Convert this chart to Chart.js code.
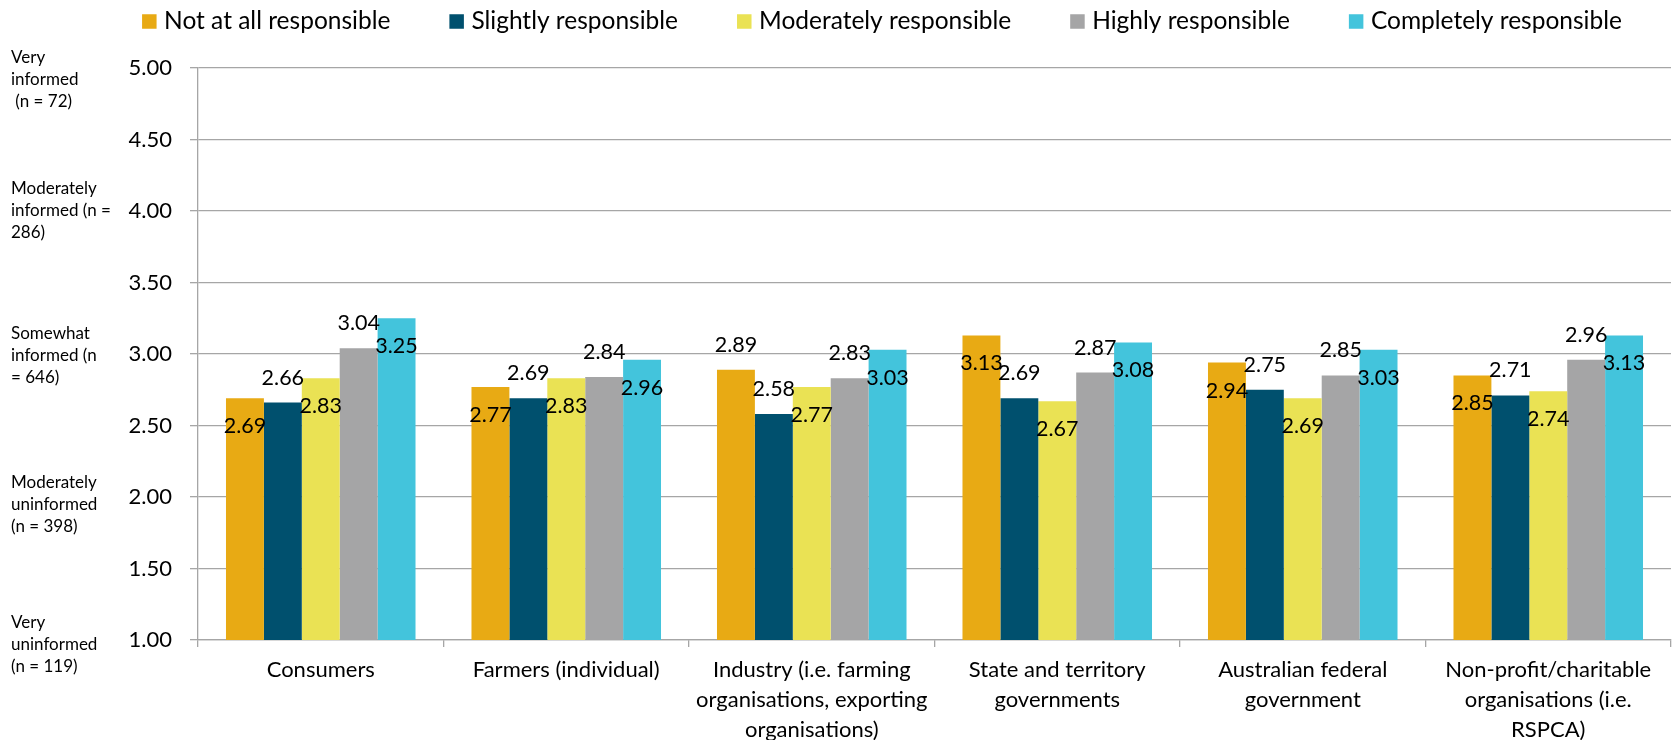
<!DOCTYPE html>
<html>
<head>
<meta charset="utf-8">
<script src="https://cdn.jsdelivr.net/npm/chart.js@4.4.1/dist/chart.umd.min.js"></script>
<style>
  html, body { margin: 0; padding: 0; background: #ffffff; overflow: hidden; }
  #wrap { width: 1678px; height: 740px; }
</style>
</head>
<body>
<div id="wrap"><canvas id="chart" width="1678" height="740"></canvas></div>
<script>
// ---- data ----
const categories = [
  'Consumers',
  'Farmers (individual)',
  ['Industry (i.e. farming', 'organisations, exporting', 'organisations)'],
  ['State and territory', 'governments'],
  ['Australian federal', 'government'],
  ['Non-profit/charitable', 'organisations (i.e.', 'RSPCA)']
];
const seriesNames = [
  'Not at all responsible',
  'Slightly responsible',
  'Moderately responsible',
  'Highly responsible',
  'Completely responsible'
];
const notAtAll   = [2.69, 2.77, 2.89, 3.13, 2.94, 2.85];
const slightly   = [2.66, 2.69, 2.58, 2.69, 2.75, 2.71];
const moderately = [2.83, 2.83, 2.77, 2.67, 2.69, 2.74];
const highly     = [3.04, 2.84, 2.83, 2.87, 2.85, 2.96];
const completely = [3.25, 2.96, 3.03, 3.08, 3.03, 3.13];
const yTickValues = [1.0, 1.5, 2.0, 2.5, 3.0, 3.5, 4.0, 4.5, 5.0];
const informedLevels = [5, 4, 3, 2, 1];
const informedText = [
  ['Very', 'informed', ' (n = 72)'],
  ['Moderately', 'informed (n =', '286)'],
  ['Somewhat', 'informed (n', '= 646)'],
  ['Moderately', 'uninformed', '(n = 398)'],
  ['Very', 'uninformed', '(n = 119)']
];

// ---- styling / layout ----
const seriesColors = ['#E8AA14', '#00506E', '#EAE254', '#A5A5A6', '#43C4DC'];
const gridColor = '#A6A6A6';
const FONT = 'Lato, "Open Sans", sans-serif';
// which side of the bar top each value label sits on: 'in' below the top, 'up' above it
const labelSides = [
  ['in', 'up', 'in', 'up', 'in'],
  ['in', 'up', 'in', 'up', 'in'],
  ['up', 'up', 'in', 'up', 'in'],
  ['in', 'up', 'in', 'up', 'in'],
  ['in', 'up', 'in', 'up', 'in'],
  ['in', 'up', 'in', 'up', 'in']
];
const labelShift = { in: 28, up: -25 };
const informedShift = [-10, -22, -20, -14, -17];

const seriesValues = [notAtAll, slightly, moderately, highly, completely];

// value labels on every bar
const valueLabels = {
  id: 'valueLabels',
  afterDatasetsDraw(chart) {
    const ctx = chart.ctx;
    ctx.save();
    ctx.font = '21.5px ' + FONT;
    ctx.fillStyle = '#000000';
    ctx.textAlign = 'center';
    ctx.textBaseline = 'middle';
    chart.data.datasets.forEach((ds, di) => {
      const meta = chart.getDatasetMeta(di);
      meta.data.forEach((bar, i) => {
        const side = labelSides[i][di];
        ctx.fillText(ds.data[i].toFixed(2), bar.x, bar.y + labelShift[side]);
      });
    });
    ctx.restore();
  }
};

// informed-level notes down the left edge, pinned to the y scale
const informedNotes = {
  id: 'informedNotes',
  afterDraw(chart) {
    const ctx = chart.ctx;
    const y = chart.scales.y;
    ctx.save();
    ctx.font = '17px ' + FONT;
    ctx.fillStyle = '#000000';
    ctx.textAlign = 'left';
    ctx.textBaseline = 'middle';
    informedLevels.forEach((lvl, k) => {
      const y0 = y.getPixelForValue(lvl) + informedShift[k];
      informedText[k].forEach((line, j) => {
        ctx.fillText(line, 11, y0 + j * 22);
      });
    });
    ctx.restore();
  }
};

// single-row legend across the top
const topLegend = {
  id: 'topLegend',
  afterDraw(chart) {
    const ctx = chart.ctx;
    ctx.save();
    ctx.font = '24.5px ' + FONT;
    ctx.textBaseline = 'middle';
    ctx.textAlign = 'left';
    const box = 14.5, textGap = 22, itemGap = 59;
    const items = chart.data.datasets.map(ds => ({
      label: ds.label, color: ds.backgroundColor, w: ctx.measureText(ds.label).width
    }));
    const total = items.reduce((s, it) => s + textGap + it.w, 0) + itemGap * (items.length - 1);
    let x = 882 - total / 2;
    const cy = 21.5;
    items.forEach(it => {
      ctx.fillStyle = it.color;
      ctx.fillRect(x, cy - box / 2, box, box);
      ctx.fillStyle = '#000000';
      ctx.fillText(it.label, x + textGap, cy);
      x += textGap + it.w + itemGap;
    });
    ctx.restore();
  }
};

new Chart(document.getElementById('chart'), {
  type: 'bar',
  data: {
    labels: categories,
    datasets: seriesNames.map((name, i) => ({
      label: name,
      data: seriesValues[i],
      backgroundColor: seriesColors[i],
      borderWidth: 0,
      categoryPercentage: 0.772,
      barPercentage: 1.0
    }))
  },
  options: {
    responsive: false,
    animation: false,
    devicePixelRatio: 1,
    layout: { padding: { top: 68, right: 7, bottom: 0, left: 0 } },
    plugins: {
      legend: { display: false },
      tooltip: { enabled: false }
    },
    scales: {
      x: {
        grid: { drawOnChartArea: false, drawTicks: true, tickLength: 7, color: gridColor, lineWidth: 1.3 },
        border: { color: gridColor, width: 1.3 },
        ticks: {
          color: '#000000',
          font: { family: FONT, size: 22, lineHeight: '30px' },
          padding: 8,
          maxRotation: 0,
          autoSkip: false
        },
        afterFit(s) { s.height = 100; }
      },
      y: {
        min: 1,
        max: 5,
        afterBuildTicks(s) { s.ticks = yTickValues.map(v => ({ value: v })); },
        grid: { color: gridColor, lineWidth: 1.3, tickLength: 8 },
        border: { color: gridColor, width: 1.3 },
        ticks: {
          color: '#000000',
          font: { family: FONT, size: 22 },
          padding: 18,
          callback: v => Number(v).toFixed(2)
        },
        afterFit(s) { s.width = 198; }
      }
    }
  },
  plugins: [valueLabels, informedNotes, topLegend]
});
</script>
</body>
</html>
